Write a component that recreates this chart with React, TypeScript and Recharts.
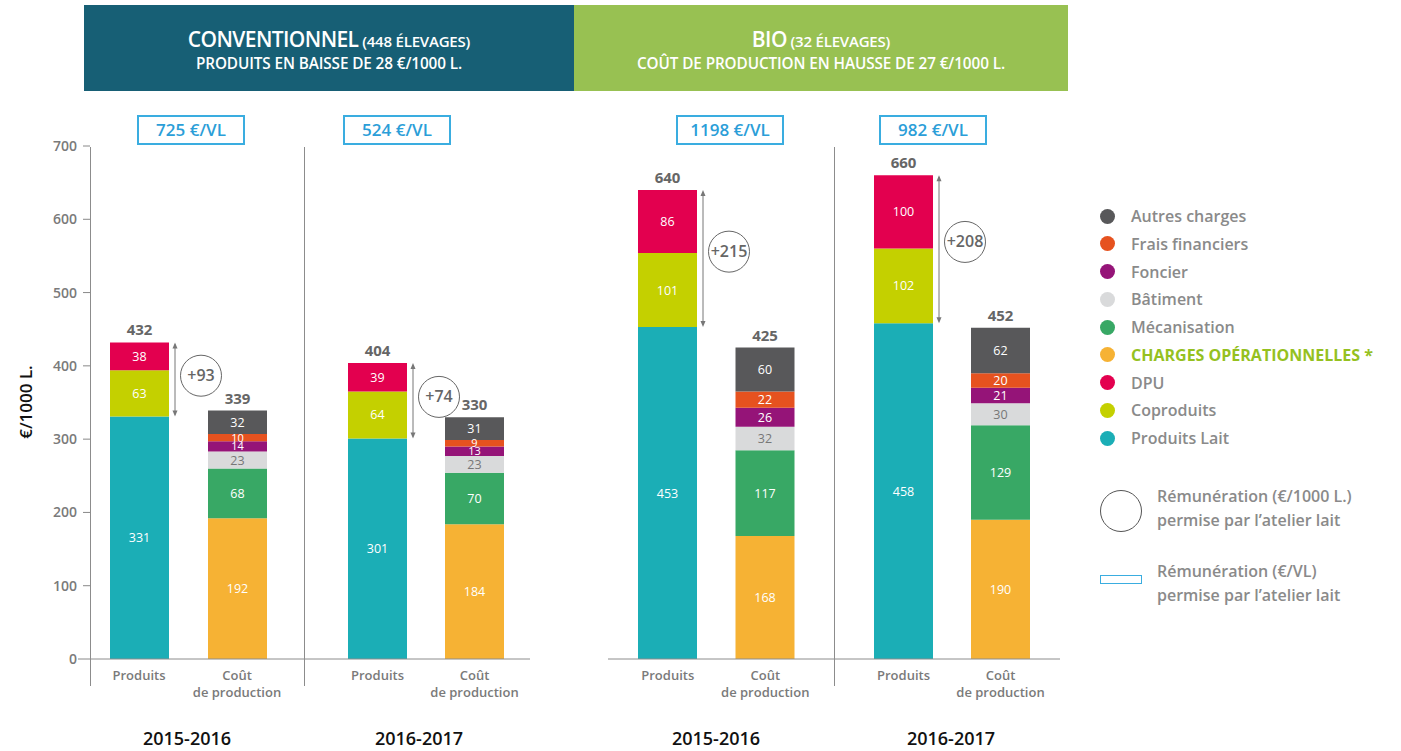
import { Bar, BarChart, LabelList, XAxis, YAxis } from "recharts";

// values in €/1000 L., groups: conv 15-16, conv 16-17, bio 15-16, bio 16-17
const years = ["2015-2016", "2016-2017", "2015-2016", "2016-2017"];
const categories = ["Produits", "Coût\nde production"];
const yTicks = [0, 100, 200, 300, 400, 500, 600, 700];

const produitsLait = [331, 301, 453, 458];
const coproduits = [63, 64, 101, 102];
const dpu = [38, 39, 86, 100];

const chargesOp = [192, 184, 168, 190];
const mecanisation = [68, 70, 117, 129];
const batiment = [23, 23, 32, 30];
const foncier = [14, 13, 26, 21];
const fraisFinanciers = [10, 9, 22, 20];
const autresCharges = [32, 31, 60, 62];

const totalProduits = [432, 404, 640, 660];
const totalCout = [339, 330, 425, 452];
const remuneration = [93, 74, 215, 208];
const remunerationVL = ["725 €/VL", "524 €/VL", "1198 €/VL", "982 €/VL"];

const COLORS: Record<string, string> = {
  lait: "#1BAEB6",
  copro: "#C4D000",
  dpu: "#E3004F",
  chargesOp: "#F6B234",
  meca: "#38A865",
  batiment: "#D9DADB",
  foncier: "#951478",
  frais: "#E6521F",
  autres: "#58585A",
};

const legendItems = [
  { key: "autres", label: "Autres charges" },
  { key: "frais", label: "Frais financiers" },
  { key: "foncier", label: "Foncier" },
  { key: "batiment", label: "Bâtiment" },
  { key: "meca", label: "Mécanisation" },
  { key: "chargesOp", label: "CHARGES OPÉRATIONNELLES *" },
  { key: "dpu", label: "DPU" },
  { key: "copro", label: "Coproduits" },
  { key: "lait", label: "Produits Lait" },
];

const FONT = "'Open Sans', 'DejaVu Sans', sans-serif";
const GREY = "#7a7a7a";

// page layout of the four small charts (left edge, width, band padding)
const chartBoxes = [
  { left: 0, width: 304, pad: { left: 0, right: 18 } },
  { left: 304, width: 226, pad: { left: 25, right: 7 } },
  { left: 608, width: 226, pad: { left: 11, right: 20 } },
  { left: 834, width: 226, pad: { left: 21, right: 11 } },
];
const badgeCenters = [191, 397, 730, 933];
const yearCenters = [187, 419, 716, 951];

const buildRows = (g: number) => [
  {
    cat: categories[0],
    lait: produitsLait[g],
    copro: coproduits[g],
    dpu: dpu[g],
    totalP: totalProduits[g],
    remu: remuneration[g],
  },
  {
    cat: categories[1],
    chargesOp: chargesOp[g],
    meca: mecanisation[g],
    batiment: batiment[g],
    foncier: foncier[g],
    frais: fraisFinanciers[g],
    autres: autresCharges[g],
    totalC: totalCout[g],
  },
];

const box = (props: any) => {
  const vb = props.viewBox || props;
  return { x: vb.x, y: vb.y, width: vb.width, height: vb.height };
};

const segLabel = (color: string) => (props: any) => {
  const { value } = props;
  if (value == null) return null;
  const { x, y, width, height } = box(props);
  if (!height) return null;
  const small = height < 14;
  return (
    <text
      x={x + width / 2}
      y={y + height / 2}
      dy={small ? 4 : 4.5}
      textAnchor="middle"
      fill={color}
      fontSize={small ? 11 : 12.5}
      fontFamily={FONT}
    >
      {value}
    </text>
  );
};

const totalLabel = (props: any) => {
  const { value } = props;
  if (value == null) return null;
  const { x, y, width, height } = box(props);
  if (!height) return null;
  return (
    <text
      x={x + width / 2}
      y={y - 7}
      textAnchor="middle"
      fill="#666"
      fontSize={15}
      fontWeight={700}
      fontFamily={FONT}
    >
      {value}
    </text>
  );
};

const remuMark = (g: number) => (props: any) => {
  const { value } = props;
  if (value == null) return null;
  const { x, y, width, height } = box(props);
  if (!height) return null;
  const unit = height / dpu[g];
  const top = y;
  const bottom = y + height + coproduits[g] * unit;
  const ax = x + width + 6;
  const cy = top + Math.max(22, (bottom - top) * 0.45);
  return (
    <g>
      <line x1={ax} x2={ax} y1={top + 2} y2={bottom - 2} stroke="#777" strokeWidth={1} />
      <path d={`M${ax - 2.5},${top + 6} L${ax},${top} L${ax + 2.5},${top + 6} Z`} fill="#777" />
      <path d={`M${ax - 2.5},${bottom - 6} L${ax},${bottom} L${ax + 2.5},${bottom - 6} Z`} fill="#777" />
      <circle cx={ax + 26} cy={cy} r={20.5} fill="#fff" stroke="#666" strokeWidth={1} />
      <text
        x={ax + 26}
        y={cy}
        dy={5.5}
        textAnchor="middle"
        fill="#666"
        fontSize={16}
        fontWeight={600}
        fontFamily={FONT}
      >
        +{value}
      </text>
    </g>
  );
};

const XTick = (props: any) => {
  const { x, payload } = props;
  const lines = String(payload.value).split("\n");
  return (
    <text textAnchor="middle" fill={GREY} fontSize={13} fontWeight={600} fontFamily={FONT}>
      {lines.map((l, i) => (
        <tspan key={i} x={x} y={680 + i * 17}>
          {l}
        </tspan>
      ))}
    </text>
  );
};

const YTick = (props: any) => {
  const { y, payload } = props;
  const len = payload.value === 0 ? 12 : 7;
  return (
    <g>
      <line x1={90 - len} x2={90} y1={y} y2={y} stroke="#888" strokeWidth={1} />
      <text
        x={77}
        y={y}
        dy={5}
        textAnchor="end"
        fill={GREY}
        fontSize={14}
        fontWeight={600}
        fontFamily={FONT}
      >
        {payload.value}
      </text>
    </g>
  );
};

function GroupChart({ g }: { g: number }) {
  const b = chartBoxes[g];
  const first = g === 0;
  return (
    <div style={{ position: "absolute", left: b.left, top: 0 }}>
      <BarChart
        width={b.width}
        height={700}
        data={buildRows(g)}
        margin={{ top: 146, right: 0, bottom: 0, left: 0 }}
        barSize={59}
      >
        <XAxis
          dataKey="cat"
          height={41}
          padding={b.pad}
          interval={0}
          axisLine={{ stroke: "#8c8c8c" }}
          tickLine={false}
          tick={<XTick />}
        />
        <YAxis
          domain={[0, 700]}
          ticks={yTicks}
          hide={!first}
          width={first ? 90 : 0}
          axisLine={false}
          tickLine={false}
          tick={<YTick />}
        />
        <Bar dataKey="lait" stackId="s" fill={COLORS.lait} isAnimationActive={false}>
          <LabelList dataKey="lait" content={segLabel("#fff")} />
        </Bar>
        <Bar dataKey="copro" stackId="s" fill={COLORS.copro} isAnimationActive={false}>
          <LabelList dataKey="copro" content={segLabel("#fff")} />
        </Bar>
        <Bar dataKey="dpu" stackId="s" fill={COLORS.dpu} isAnimationActive={false}>
          <LabelList dataKey="dpu" content={segLabel("#fff")} />
          <LabelList dataKey="totalP" content={totalLabel} />
          <LabelList dataKey="remu" content={remuMark(g)} />
        </Bar>
        <Bar dataKey="chargesOp" stackId="s" fill={COLORS.chargesOp} isAnimationActive={false}>
          <LabelList dataKey="chargesOp" content={segLabel("#fff")} />
        </Bar>
        <Bar dataKey="meca" stackId="s" fill={COLORS.meca} isAnimationActive={false}>
          <LabelList dataKey="meca" content={segLabel("#fff")} />
        </Bar>
        <Bar dataKey="batiment" stackId="s" fill={COLORS.batiment} isAnimationActive={false}>
          <LabelList dataKey="batiment" content={segLabel("#777")} />
        </Bar>
        <Bar dataKey="foncier" stackId="s" fill={COLORS.foncier} isAnimationActive={false}>
          <LabelList dataKey="foncier" content={segLabel("#fff")} />
        </Bar>
        <Bar dataKey="frais" stackId="s" fill={COLORS.frais} isAnimationActive={false}>
          <LabelList dataKey="frais" content={segLabel("#fff")} />
        </Bar>
        <Bar dataKey="autres" stackId="s" fill={COLORS.autres} isAnimationActive={false}>
          <LabelList dataKey="autres" content={segLabel("#fff")} />
          <LabelList dataKey="totalC" content={totalLabel} />
        </Bar>
      </BarChart>
    </div>
  );
}

const vline = (x: number) => (
  <div
    key={x}
    style={{ position: "absolute", left: x, top: 147, width: 1, height: 539, background: "#8c8c8c" }}
  />
);

const legendText = {
  fontFamily: FONT,
  fontSize: 16,
  fontWeight: 600,
  color: "#8a8a8a",
  lineHeight: "24px",
};

const headLine1 = { marginTop: 22, fontSize: 21, fontWeight: 600, letterSpacing: -0.6, lineHeight: "24px" };
const headLine2 = { fontSize: 15.3, fontWeight: 600, letterSpacing: -0.1, lineHeight: "20px" };

export default function App() {
  return (
    <div
      style={{
        position: "absolute",
        left: 0,
        top: 0,
        width: 1401,
        height: 751,
        background: "#fff",
        fontFamily: FONT,
        overflow: "hidden",
      }}
    >
      {/* header bands */}
      <div
        style={{
          position: "absolute",
          left: 84,
          top: 5,
          width: 490,
          height: 86,
          background: "#175F75",
          color: "#fff",
          textAlign: "center",
        }}
      >
        <div style={headLine1}>
          CONVENTIONNEL<span style={{ fontSize: 15, letterSpacing: -0.2 }}> (448 ÉLEVAGES)</span>
        </div>
        <div style={headLine2}>PRODUITS EN BAISSE DE 28 €/1000 L.</div>
      </div>
      <div
        style={{
          position: "absolute",
          left: 574,
          top: 5,
          width: 494,
          height: 86,
          background: "#98C152",
          color: "#fff",
          textAlign: "center",
        }}
      >
        <div style={headLine1}>
          BIO<span style={{ fontSize: 15, letterSpacing: -0.2 }}> (32 ÉLEVAGES)</span>
        </div>
        <div style={headLine2}>COÛT DE PRODUCTION EN HAUSSE DE 27 €/1000 L.</div>
      </div>

      {/* €/VL badges */}
      {remunerationVL.map((t, i) => (
        <div
          key={i}
          style={{
            position: "absolute",
            left: badgeCenters[i] - 54,
            top: 115,
            width: 104,
            height: 26,
            border: "2px solid #3AADE0",
            color: "#2B9ED8",
            fontSize: 17,
            fontWeight: 600,
            textAlign: "center",
            lineHeight: "26px",
          }}
        >
          {t}
        </div>
      ))}

      {[0, 1, 2, 3].map((g) => (
        <GroupChart key={g} g={g} />
      ))}
      {[90, 304, 834].map(vline)}

      {/* axis title */}
      <div
        style={{
          position: "absolute",
          left: 25,
          top: 402,
          transform: "translate(-50%, -50%) rotate(-90deg)",
          fontSize: 17,
          fontWeight: 600,
          color: "#111",
          whiteSpace: "nowrap",
        }}
      >
        €/1000 L.
      </div>

      {/* years */}
      {years.map((y, i) => (
        <div
          key={i}
          style={{
            position: "absolute",
            left: yearCenters[i] - 60,
            top: 726,
            width: 120,
            textAlign: "center",
            fontSize: 18,
            fontWeight: 600,
            color: "#111",
            lineHeight: "24px",
          }}
        >
          {y}
        </div>
      ))}

      {/* legend */}
      {legendItems.map((it, i) => (
        <div
          key={it.key}
          style={{ position: "absolute", left: 1100, top: 216 + i * 27.75 - 12, display: "flex", alignItems: "center" }}
        >
          <div style={{ width: 15, height: 15, borderRadius: "50%", background: COLORS[it.key], marginRight: 16 }} />
          <div
            style={{
              ...legendText,
              ...(it.key === "chargesOp" ? { color: "#95C11F", fontWeight: 700 } : {}),
            }}
          >
            {it.label}
          </div>
        </div>
      ))}
      <div
        style={{
          position: "absolute",
          left: 1100,
          top: 490,
          width: 40,
          height: 40,
          borderRadius: "50%",
          border: "1.5px solid #555",
        }}
      />
      <div style={{ ...legendText, position: "absolute", left: 1157, top: 484 }}>
        Rémunération (€/1000 L.)
        <br />
        permise par l’atelier lait
      </div>
      <div
        style={{
          position: "absolute",
          left: 1100,
          top: 575,
          width: 40,
          height: 7,
          border: "1.5px solid #3AADE0",
        }}
      />
      <div style={{ ...legendText, position: "absolute", left: 1157, top: 559 }}>
        Rémunération (€/VL)
        <br />
        permise par l’atelier lait
      </div>
    </div>
  );
}
